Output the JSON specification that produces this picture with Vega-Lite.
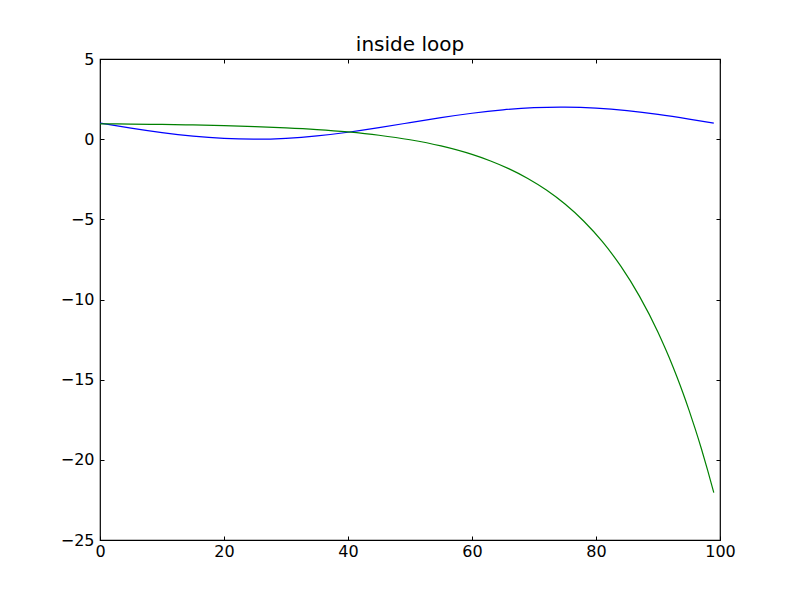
{
  "$schema": "https://vega.github.io/schema/vega-lite/v6.json",
  "autosize": "none",
  "width": 620,
  "height": 481,
  "padding": {"left": 100, "top": 59, "right": 80, "bottom": 60},
  "background": "white",
  "title": {"text": "inside loop", "font": "DejaVu Sans", "fontSize": 20, "fontWeight": "normal", "color": "black", "offset": -4, "anchor": "middle", "frame": "group"},
  "config": {"view": {"stroke": "black", "strokeWidth": 1.2}},
  "data": {"values": [
    {"x": 0, "y": 1.0, "s": "a"}, {"x": 5, "y": 0.688, "s": "a"}, {"x": 10, "y": 0.407, "s": "a"}, {"x": 15, "y": 0.185, "s": "a"},
    {"x": 20, "y": 0.045, "s": "a"}, {"x": 25, "y": 0.0, "s": "a"}, {"x": 30, "y": 0.055, "s": "a"}, {"x": 35, "y": 0.204, "s": "a"},
    {"x": 40, "y": 0.433, "s": "a"}, {"x": 45, "y": 0.718, "s": "a"}, {"x": 50, "y": 1.032, "s": "a"}, {"x": 55, "y": 1.342, "s": "a"},
    {"x": 60, "y": 1.617, "s": "a"}, {"x": 65, "y": 1.831, "s": "a"}, {"x": 70, "y": 1.964, "s": "a"}, {"x": 75, "y": 1.999, "s": "a"},
    {"x": 80, "y": 1.935, "s": "a"}, {"x": 85, "y": 1.776, "s": "a"}, {"x": 90, "y": 1.541, "s": "a"}, {"x": 95, "y": 1.251, "s": "a"},
    {"x": 99, "y": 1.0, "s": "a"},
    {"x": 0, "y": 0.956, "s": "b"}, {"x": 5, "y": 0.94, "s": "b"}, {"x": 10, "y": 0.918, "s": "b"}, {"x": 15, "y": 0.887, "s": "b"},
    {"x": 20, "y": 0.845, "s": "b"}, {"x": 25, "y": 0.787, "s": "b"}, {"x": 30, "y": 0.708, "s": "b"}, {"x": 35, "y": 0.599, "s": "b"},
    {"x": 40, "y": 0.449, "s": "b"}, {"x": 45, "y": 0.244, "s": "b"}, {"x": 50, "y": -0.037, "s": "b"}, {"x": 55, "y": -0.423, "s": "b"},
    {"x": 60, "y": -0.953, "s": "b"}, {"x": 63, "y": -1.361, "s": "b"}, {"x": 66, "y": -1.855, "s": "b"}, {"x": 69, "y": -2.452, "s": "b"},
    {"x": 72, "y": -3.174, "s": "b"}, {"x": 75, "y": -4.047, "s": "b"}, {"x": 78, "y": -5.103, "s": "b"}, {"x": 81, "y": -6.38, "s": "b"},
    {"x": 84, "y": -7.923, "s": "b"}, {"x": 87, "y": -9.79, "s": "b"}, {"x": 90, "y": -12.04, "s": "b"}, {"x": 91, "y": -12.9, "s": "b"},
    {"x": 92, "y": -13.8, "s": "b"}, {"x": 93, "y": -14.77, "s": "b"}, {"x": 94, "y": -15.8, "s": "b"}, {"x": 95, "y": -16.9, "s": "b"},
    {"x": 96, "y": -18.07, "s": "b"}, {"x": 97, "y": -19.31, "s": "b"}, {"x": 98, "y": -20.64, "s": "b"}, {"x": 99, "y": -22.05, "s": "b"}
  ]},
  "resolve": {"axis": {"x": "independent", "y": "independent"}},
  "layer": [
    {
      "transform": [{"filter": "datum.s === 'a'"}],
      "mark": {"type": "line", "color": "#0000ff", "strokeWidth": 1.2, "interpolate": "natural", "clip": true},
      "encoding": {
        "x": {"field": "x", "type": "quantitative", "title": null,
          "scale": {"domain": [0, 100], "nice": false, "zero": false},
          "axis": {"orient": "bottom", "values": [0, 20, 40, 60, 80, 100], "domain": false, "grid": false, "tickColor": "black", "tickSize": -4, "labelPadding": 7, "labelFont": "DejaVu Sans", "labelFontSize": 16, "labelColor": "black", "labelFlush": false, "labelOverlap": false}},
        "y": {"field": "y", "type": "quantitative", "title": null,
          "scale": {"domain": [-25, 5], "nice": false, "zero": false},
          "axis": {"orient": "left", "values": [-25, -20, -15, -10, -5, 0, 5], "domain": false, "grid": false, "tickColor": "black", "tickSize": -4, "labelPadding": 10, "labelFont": "DejaVu Sans", "labelFontSize": 16, "labelColor": "black", "labelFlush": false, "labelOverlap": false}}
      }
    },
    {
      "transform": [{"filter": "datum.s === 'b'"}],
      "mark": {"type": "line", "color": "#008000", "strokeWidth": 1.2, "interpolate": "monotone", "clip": true},
      "encoding": {
        "x": {"field": "x", "type": "quantitative", "title": null,
          "axis": {"orient": "top", "values": [0, 20, 40, 60, 80, 100], "domain": false, "grid": false, "labels": false, "tickColor": "black", "tickSize": -4}},
        "y": {"field": "y", "type": "quantitative", "title": null,
          "axis": {"orient": "right", "values": [-25, -20, -15, -10, -5, 0, 5], "domain": false, "grid": false, "labels": false, "tickColor": "black", "tickSize": -4}}
      }
    }
  ]
}
